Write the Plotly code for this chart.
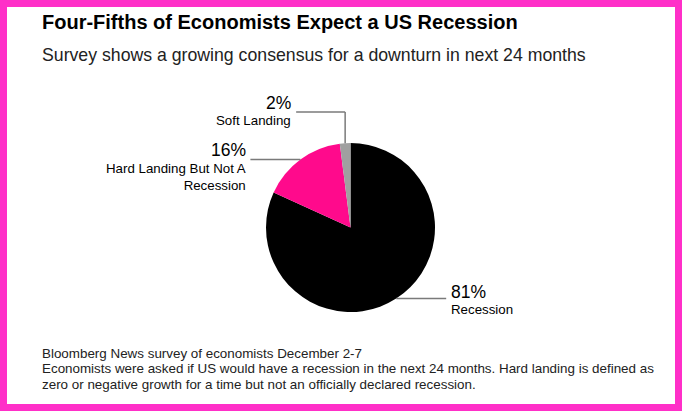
import math
import plotly.graph_objects as go

# -----------------------
# Data
# -----------------------
labels = ["Recession", "Hard Landing But Not A<br>Recession", "Soft Landing"]
values = [81, 16, 2]
colors = ["#000000", "#ff0a8c", "#a0a0a0"]

title = "<b>Four-Fifths of Economists Expect a US Recession</b>"
subtitle = "Survey shows a growing consensus for a downturn in next 24 months"
notes = [
    "Bloomberg News survey of economists December 2-7",
    "Economists were asked if US would have a recession in the next 24 months. "
    "Hard landing is defined as",
    "zero or negative growth for a time but not an officially declared recession.",
]

W, H = 682, 411
FONT = "Liberation Sans"
BORDER = "#ff2fc8"
LEADER = "#7a7a7a"

# pie geometry in pixels
cx, cy, r = 350.5, 227.5, 84.5


def px(x):
    return x / W


def py(y):
    return 1 - y / H


fig = go.Figure()
fig.add_trace(go.Pie(
    labels=labels, values=values, sort=False, direction="clockwise", rotation=0,
    marker=dict(colors=colors, line=dict(width=0)),
    textinfo="none", hoverinfo="label+percent", showlegend=False,
    domain=dict(x=[px(cx - r), px(cx + r)], y=[py(cy + r), py(cy - r)]),
))

# white card inside the magenta frame
shapes = [dict(type="rect", xref="paper", yref="paper", layer="below",
               x0=px(7), x1=px(675), y0=py(404), y1=py(7),
               fillcolor="white", line=dict(width=0))]
annotations = []

# slice mid points on the rim, from the data
total = sum(values)
cum = 0
rim = []
for v in values:
    mid = (cum + v / 2) / total * 2 * math.pi
    rim.append((cx + r * math.sin(mid), cy - r * math.cos(mid)))
    cum += v

line = dict(color=LEADER, width=1.5)
pct_font = dict(size=17.5)
name_font = dict(size=13.3)

# Recession: to the right
x0, y0 = rim[0]
shapes.append(dict(type="line", xref="paper", yref="paper",
                   x0=px(x0), y0=py(y0), x1=px(x0 + 50), y1=py(y0), line=line))
annotations.append(dict(x=px(x0 + 53), y=py(y0 - 7), text=f"{values[0]}%",
                        xanchor="left", yanchor="middle", font=pct_font))
annotations.append(dict(x=px(x0 + 53), y=py(y0 + 11), text=labels[0],
                        xanchor="left", yanchor="middle", font=name_font))

# Hard landing: to the left
x1, y1 = rim[1]
shapes.append(dict(type="line", xref="paper", yref="paper",
                   x0=px(x1), y0=py(y1), x1=px(x1 - 50), y1=py(y1), line=line))
annotations.append(dict(x=px(x1 - 52), y=py(y1 - 9), text=f"{values[1]}%",
                        xanchor="right", yanchor="middle", font=pct_font))
annotations.append(dict(x=px(x1 - 52), y=py(y1 + 18), text=labels[1], align="right",
                        xanchor="right", yanchor="middle", font=name_font))

# Soft landing: up then left
x2, y2 = rim[2]
ytop = 112
shapes.append(dict(type="line", xref="paper", yref="paper",
                   x0=px(x2), y0=py(y2), x1=px(x2), y1=py(ytop), line=line))
shapes.append(dict(type="line", xref="paper", yref="paper",
                   x0=px(x2), y0=py(ytop), x1=px(x2 - 49), y1=py(ytop), line=line))
annotations.append(dict(x=px(x2 - 52), y=py(ytop - 9), text=f"{values[2]}%",
                        xanchor="right", yanchor="middle", font=pct_font))
annotations.append(dict(x=px(x2 - 52), y=py(ytop + 9), text=labels[2],
                        xanchor="right", yanchor="middle", font=name_font))

# titles and notes
annotations.append(dict(x=px(40), y=py(22), text=title, xanchor="left", yanchor="middle",
                        font=dict(size=20)))
annotations.append(dict(x=px(40), y=py(55), text=subtitle, xanchor="left",
                        yanchor="middle", font=dict(size=17.7, color="#222222")))
for i, t in enumerate(notes):
    annotations.append(dict(x=px(40), y=py(353 + 15.5 * i), text=t, xanchor="left",
                            yanchor="middle", font=dict(size=13.4, color="#222222")))

for a in annotations:
    a.update(xref="paper", yref="paper", showarrow=False)

fig.update_layout(
    width=W, height=H, margin=dict(l=0, r=0, t=0, b=0),
    paper_bgcolor=BORDER, plot_bgcolor="white",
    font=dict(family=FONT, color="#000000"),
    shapes=shapes, annotations=annotations,
)

fig.write_html("out.html", config={"displayModeBar": False},
               post_script="document.body.style.margin='0';")
